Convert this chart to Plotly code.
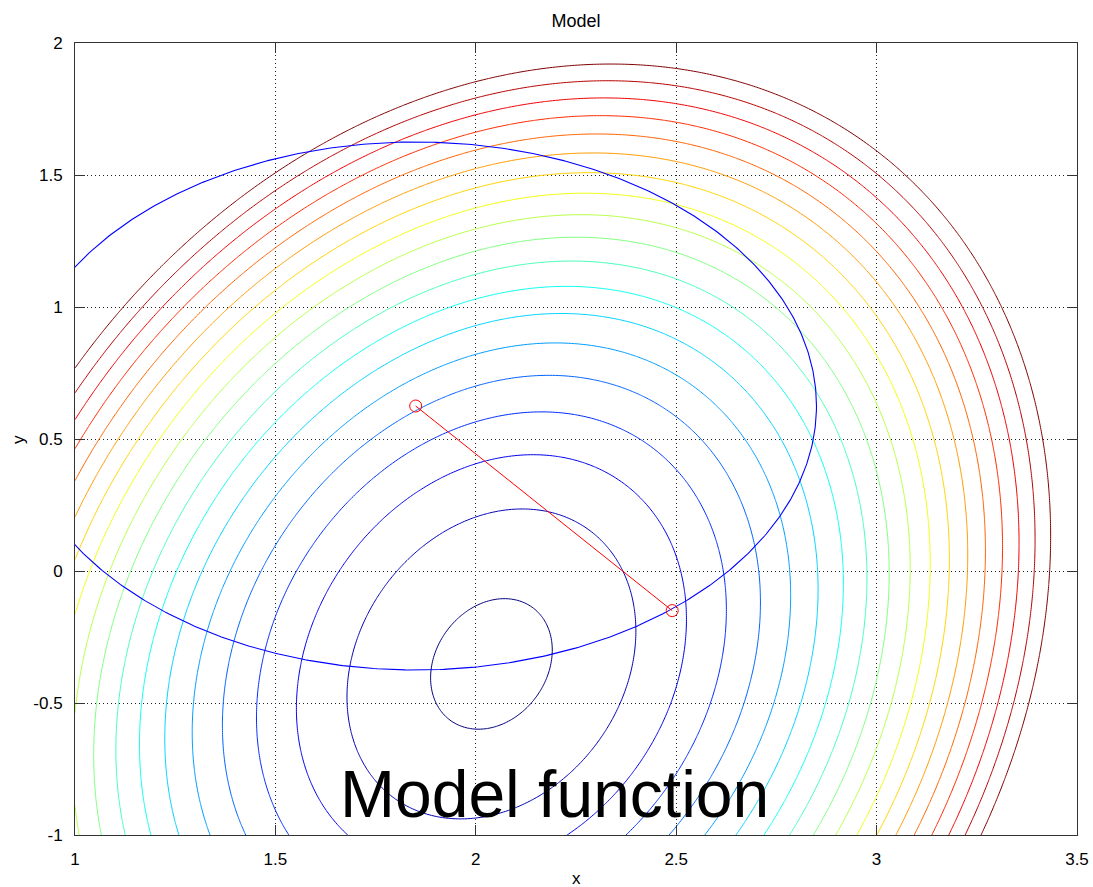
import numpy as np
import plotly.graph_objects as go

# ---- data ----
x_range = [1.0, 3.5]
y_range = [-1.0, 2.0]
x_ticks = [1.0, 1.5, 2.0, 2.5, 3.0, 3.5]
x_ticklabels = ["1", "1.5", "2", "2.5", "3", "3.5"]
y_ticks = [-1.0, -0.5, 0.0, 0.5, 1.0, 1.5, 2.0]
y_ticklabels = ["-1", "-0.5", "0", "0.5", "1", "1.5", "2"]

# quadratic model m(p) = 0.5 (p - p*)^T H (p - p*)
model_minimizer = [2.039, -0.352]
model_hessian = [[2.0, -0.262], [-0.262, 0.754]]
contour_levels = [0.022, 0.124, 0.226, 0.328, 0.430, 0.532, 0.634, 0.736, 0.838,
                  0.940, 1.042, 1.144, 1.246, 1.348, 1.450, 1.552, 1.654, 1.756, 1.858]

# trust region
tr_center = [1.85, 0.625]
tr_radius = 1.0
step_end = [2.49, -0.15]
step_x = [tr_center[0], step_end[0]]
step_y = [tr_center[1], step_end[1]]

# ---- evaluate model on grid ----
gx = np.linspace(x_range[0], x_range[1], 320)
gy = np.linspace(y_range[0], y_range[1], 380)
XX, YY = np.meshgrid(gx, gy)
dX = XX - model_minimizer[0]
dY = YY - model_minimizer[1]
H = model_hessian
Z = 0.5 * (H[0][0] * dX**2 + 2 * H[0][1] * dX * dY + H[1][1] * dY**2)

jet = [[0.0, "rgb(0,0,128)"], [0.125, "rgb(0,0,255)"], [0.375, "rgb(0,255,255)"],
       [0.625, "rgb(255,255,0)"], [0.875, "rgb(255,0,0)"], [1.0, "rgb(128,0,0)"]]

fig = go.Figure()
fig.add_trace(go.Contour(
    x=gx, y=gy, z=Z,
    colorscale=jet, showscale=False,
    contours=dict(coloring="lines", start=contour_levels[0], end=contour_levels[-1] + 1e-6,
                  size=contour_levels[1] - contour_levels[0], showlabels=False),
    line=dict(width=1, smoothing=1),
    hoverinfo="skip",
))

theta = np.linspace(0, 2 * np.pi, 721)
fig.add_trace(go.Scatter(
    x=tr_center[0] + tr_radius * np.cos(theta),
    y=tr_center[1] + tr_radius * np.sin(theta),
    mode="lines", line=dict(color="rgb(0,0,255)", width=1.1),
    showlegend=False, hoverinfo="skip",
))
fig.add_trace(go.Scatter(
    x=step_x, y=step_y, mode="lines+markers",
    line=dict(color="rgb(255,0,0)", width=1),
    marker=dict(symbol="circle-open", size=12, color="rgb(255,0,0)", line=dict(width=1)),
    showlegend=False, hoverinfo="skip",
))

axis_common = dict(
    showgrid=True, gridcolor="#222222", gridwidth=1, griddash="1px,3px",
    showline=True, linecolor="#333333", linewidth=1, mirror="ticks",
    ticks="inside", ticklen=10, tickcolor="#333333", tickwidth=1,
    zeroline=False, automargin=False,
    tickfont=dict(family="Liberation Sans, Arial", size=17, color="black"),
)
fig.update_layout(
    width=1093, height=887,
    margin=dict(l=75, r=16, t=43, b=52, autoexpand=False),
    paper_bgcolor="white", plot_bgcolor="white",
    showlegend=False,
    xaxis=dict(range=x_range, tickvals=x_ticks, ticktext=x_ticklabels,
               ticklabelstandoff=9, **axis_common),
    yaxis=dict(range=y_range, tickvals=y_ticks, ticktext=y_ticklabels,
               ticklabelstandoff=8, **axis_common),
    title=dict(text="Model", x=576 / 1093, xanchor="center", y=1 - 21 / 887, yanchor="middle",
               font=dict(family="Liberation Sans, Arial", size=18, color="black")),
    annotations=[
        dict(text="x", xref="paper", yref="paper", x=0.5, y=-0.055, xanchor="center",
             yanchor="middle", showarrow=False,
             font=dict(family="Liberation Sans, Arial", size=17, color="black")),
        dict(text="y", xref="paper", yref="paper", x=-0.057, y=0.5, xanchor="center",
             yanchor="middle", showarrow=False, textangle=-90,
             font=dict(family="Liberation Sans, Arial", size=17, color="black")),
        dict(text="Model function", xref="paper", yref="paper", x=0.479, y=0.0518,
             xanchor="center", yanchor="middle", showarrow=False,
             font=dict(family="Liberation Sans, Arial", size=66, color="black")),
    ],
)

fig.write_html("out.html")
